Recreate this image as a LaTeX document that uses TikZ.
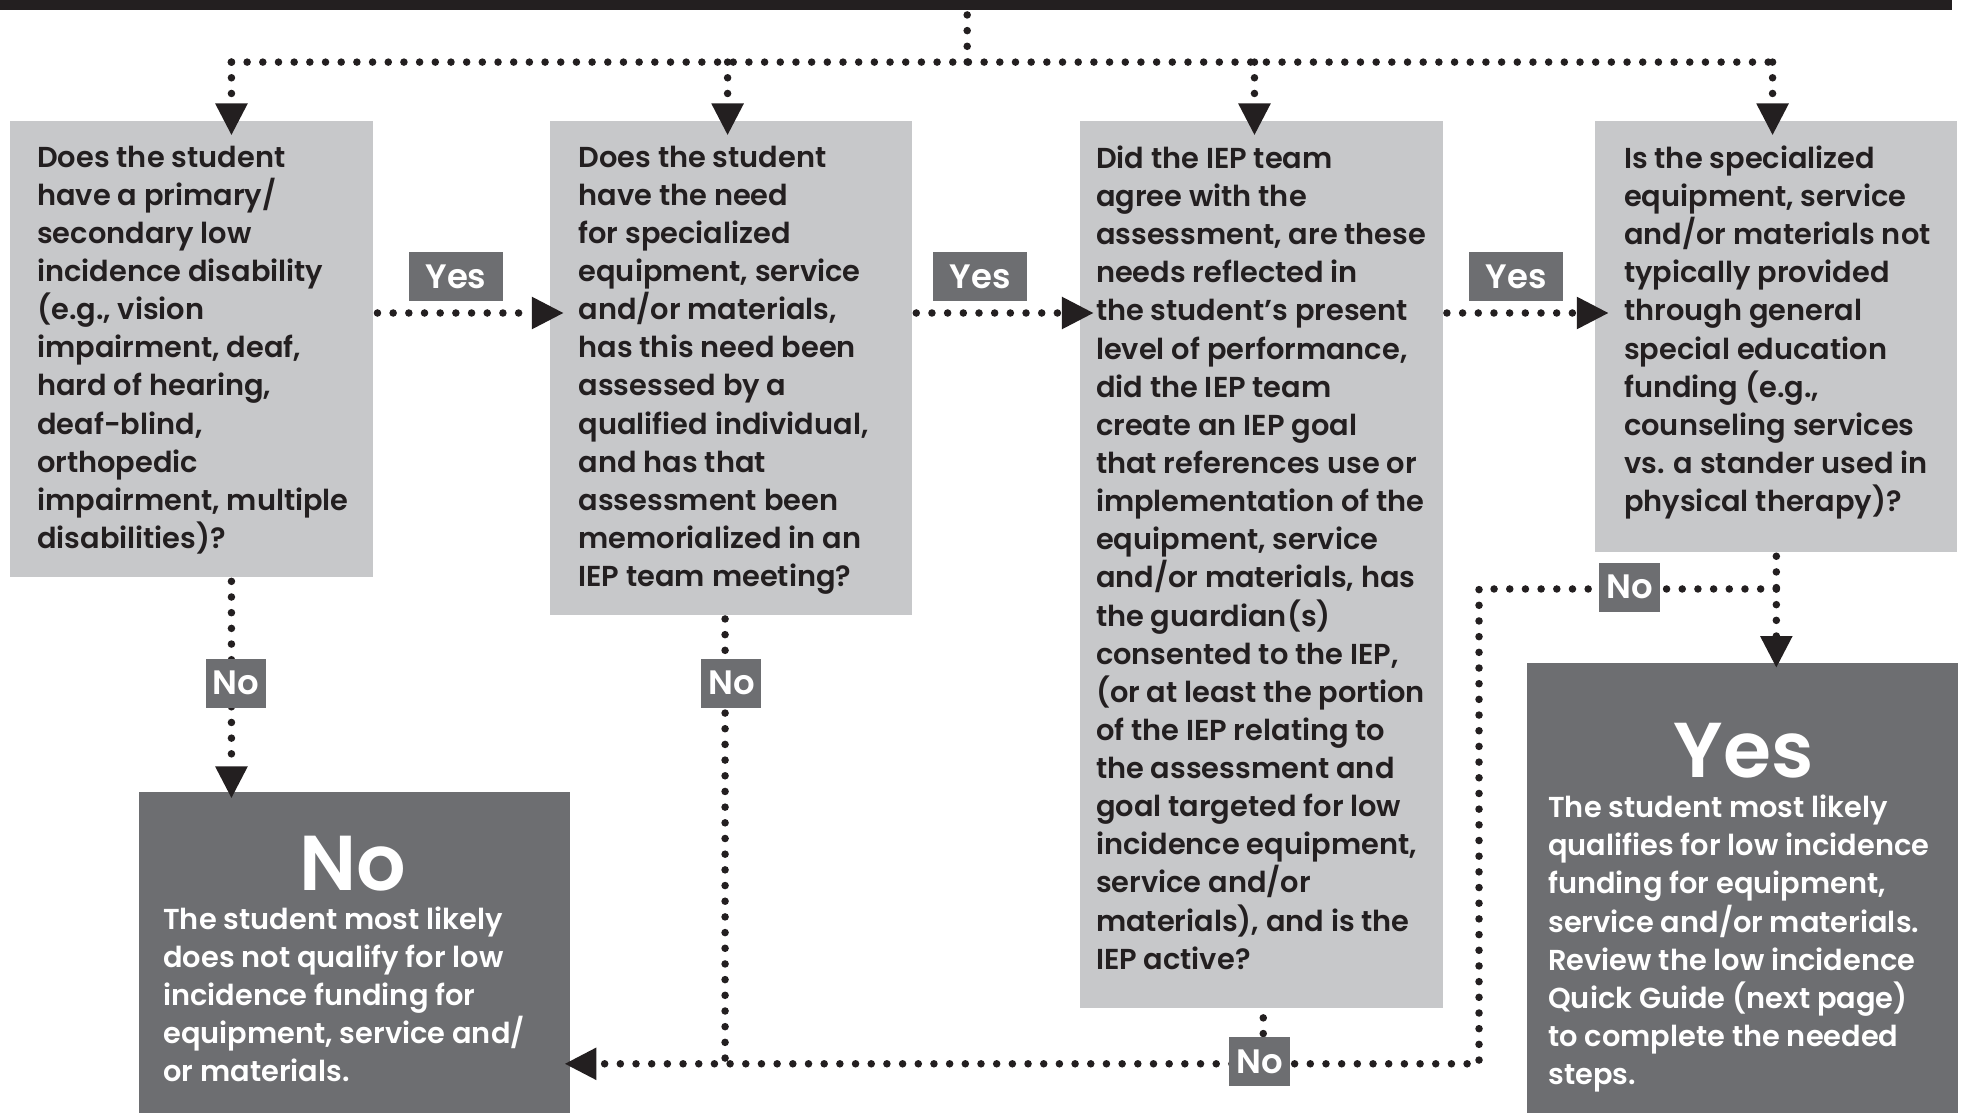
\documentclass[tikz,border=0pt]{standalone}
\usepackage{fontspec}
\setmainfont{Poppins}[UprightFont=* SemiBold, BoldFont=* Bold]
\usetikzlibrary{arrows.meta}
\definecolor{ink}{HTML}{231F20}
\definecolor{qgray}{HTML}{C7C8CA}
\definecolor{dgray}{HTML}{6D6E71}

\begin{document}
\begin{tikzpicture}[x=1pt,y=-1pt,
  topbar/.style={fill=ink, inner sep=0pt, anchor=north west},
  qbox/.style={fill=qgray, inner sep=0pt, anchor=north west},
  rbox/.style={fill=dgray, inner sep=0pt, anchor=north west},
  qtext/.style={anchor=north west, inner sep=0pt, align=left, text=ink,
    font=\fontsize{23}{30.4}\selectfont},
  rtext/.style={qtext, text=white},
  bigword/.style={anchor=base, inner sep=0pt, text=white,
    font=\fontsize{62}{62}\selectfont},
  tag/.style={fill=dgray, text=white, inner sep=0pt, minimum height=39pt,
    font=\fontsize{27}{27}\selectfont},
  dots/.style={draw=ink, line width=6pt, line cap=round,
    dash pattern=on 0pt off 12.5pt},
  dotarrow/.style={dots, -{Triangle[length=25pt,width=26pt,line width=0pt]}},
]
\useasboundingbox (0,0) rectangle (1568,887);

% header bar
\node[topbar, minimum width=1556pt, minimum height=7.5pt] (bar) at (0,0) {};

% question boxes
\node[qbox, minimum width=289.5pt, minimum height=363.5pt] (q1) at (8,96.5) {};
\node[qbox, minimum width=289pt,   minimum height=393.5pt] (q2) at (438,96.5) {};
\node[qbox, minimum width=289.5pt, minimum height=706.5pt] (q3) at (860.5,96.5) {};
\node[qbox, minimum width=289pt,   minimum height=343.5pt] (q4) at (1271,96.5) {};

% result boxes
\node[rbox, minimum width=343pt,   minimum height=255.5pt] (rno)  at (111,631.5) {};
\node[rbox, minimum width=343.5pt, minimum height=359pt]   (ryes) at (1217,528) {};

% question texts
\node[qtext] (q1t) at (29.5,116) {Does the student\\have a primary/\\secondary low\\incidence disability\\(e.g., vision\\impairment, deaf,\\hard of hearing,\\deaf-blind,\\orthopedic\\impairment, multiple\\disabilities)?};
\node[qtext] (q2t) at (461,116) {Does the student\\have the need\\for specialized\\equipment, service\\and/or materials,\\has this need been\\assessed by a\\qualified individual,\\and has that\\assessment been\\memorialized in an\\IEP team meeting?};
\node[qtext] (q3t) at (873.5,116) {Did the IEP team\\agree with the\\assessment, are these\\needs reflected in\\the student’s present\\level of performance,\\did the IEP team\\create an IEP goal\\that references use or\\implementation of the\\equipment, service\\and/or materials, has\\the guardian(s)\\consented to the IEP,\\(or at least the portion\\of the IEP relating to\\the assessment and\\goal targeted for low\\incidence equipment,\\service and/or\\materials), and is the\\IEP active?};
\node[qtext] (q4t) at (1294.5,116) {Is the specialized\\equipment, service\\and/or materials not\\typically provided\\through general\\special education\\funding (e.g.,\\counseling services\\vs. a stander used in\\physical therapy)?};

% result texts
\node[bigword] (notitle) at (281,709.5) {No};
\node[rtext] (not) at (130,722.6) {The student most likely\\does not qualify for low\\incidence funding for\\equipment, service and/\\or materials.};
\node[bigword] (yestitle) at (1390,620) {Yes};
\node[rtext] (yest) at (1234,633.6) {The student most likely\\qualifies for low incidence\\funding for equipment,\\service and/or materials.\\Review the low incidence\\Quick Guide (next page)\\to complete the needed\\steps.};

% junction points of the dotted connectors
\coordinate (hub) at (771,49.5);
\coordinate (t1) at (184.5,49.5);
\coordinate (t2) at (580,49.5);
\coordinate (t3) at (1000,49.5);
\coordinate (t4) at (1413,49.5);
\coordinate (row) at (0,249.5);
\coordinate (b2) at (578,848);
\coordinate (b3) at (1007,848);
\coordinate (j4) at (1416,469.5);
\coordinate (jc) at (1179,469.5);
\coordinate (jr) at (1179,848);

% fan-out from the header
\draw[dots, shorten <=4pt] (bar.south -| hub) -- (hub);
\draw[dots] (t1) -- (t4);
\foreach \i in {1,...,4}
  \draw[dotarrow, shorten >=-11pt] (t\i) -- (t\i |- q\i.north);

% yes chain
\draw[dotarrow, shorten <=3pt, shorten >=-11pt] (q1.east |- row) -- (q2.west |- row);
\draw[dotarrow, shorten <=3pt, shorten >=-11pt] (q2.east |- row) -- (q3.west |- row);
\draw[dotarrow, shorten <=3pt, shorten >=-11pt] (q3.east |- row) -- (q4.west |- row);

% no branches
\draw[dotarrow, shorten <=3pt, shorten >=-4.5pt] (q1.south -| t1) -- (t1 |- rno.north);
\draw[dots, shorten <=3pt] (q2.south -| b2) -- (b2);
\draw[dots, shorten <=8pt] (q3.south -| b3) -- (b3);
\draw[dots, shorten <=3pt] (q4.south -| j4) -- (j4);
\draw[dotarrow, shorten >=-4pt] (j4) -- (jc) -- (jr) -- (rno.east |- jr);
\draw[dotarrow, shorten >=-4pt] (j4) -- (j4 |- ryes.north);

% branch tags
\node[tag, minimum width=75pt] (y1) at (363.5,220.5) {Yes};
\node[tag, minimum width=75pt] (y2) at (781.5,220.5) {Yes};
\node[tag, minimum width=75pt] (y3) at (1208.5,220.5) {Yes};
\node[tag, minimum width=48pt] (n1) at (188,544.5) {No};
\node[tag, minimum width=48pt] (n2) at (583,544.5) {No};
\node[tag, minimum width=48pt] (n3) at (1004,846.5) {No};
\node[tag, minimum width=48pt] (n4) at (1299,468) {No};
\end{tikzpicture}
\end{document}
